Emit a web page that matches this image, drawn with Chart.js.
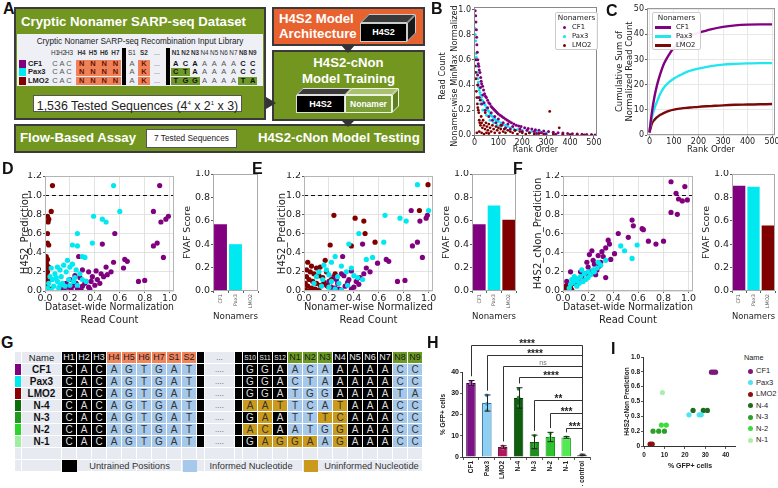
<!DOCTYPE html>
<html><head><meta charset="utf-8">
<script src="https://cdn.jsdelivr.net/npm/chart.js@4.4.1/dist/chart.umd.min.js"></script>
<style>
body{margin:0;background:#fff}
#root{position:relative;width:778px;height:488px;overflow:hidden;font-family:"Liberation Sans",Arial,sans-serif;color:#222}
#root div{position:absolute;box-sizing:border-box;white-space:nowrap}
#root canvas{position:absolute}
.wt{color:#fff;font-weight:bold;font-size:13.2px;line-height:14px}
</style></head><body><div id="root"></div>
<script>
// ---------- data ----------
const nonamers = ['CF1', 'Pax3', 'LMO2'];
const nonamerColors = ['#800080', '#00e8f0', '#800000'];

// B: nonamer-wise minmax normalized read count vs rank
const bCF1 = [[3,0.99],[5,0.95],[6,0.9],[7,0.6],[8,0.84],[9,0.78],[10,0.72],[12,0.66],[13,0.48],[14,0.6],[15,0.4],[16,0.57],[18,0.55],[20,0.52],[20,0.3],[23,0.5],[25,0.38],[26,0.46],[28,0.43],[30,0.41],[30,0.25],[34,0.39],[35,0.32],[38,0.36],[40,0.26],[42,0.33],[45,0.2],[46,0.31],[50,0.3],[55,0.28],[55,0.22],[60,0.26],[60,0.15],[65,0.25],[70,0.23],[70,0.18],[75,0.22],[75,0.12],[80,0.21],[85,0.2],[85,0.15],[90,0.19],[90,0.1],[95,0.18],[100,0.17],[100,0.13],[108,0.16],[110,0.08],[115,0.15],[120,0.1],[122,0.14],[130,0.13],[130,0.06],[138,0.12],[140,0.09],[146,0.11],[150,0.05],[155,0.1],[160,0.07],[165,0.09],[170,0.04],[175,0.08],[185,0.075],[190,0.05],[195,0.07],[200,0.03],[210,0.06],[220,0.04],[225,0.055],[230,0.02],[240,0.05],[250,0.03],[255,0.045],[260,0.015],[270,0.04],[280,0.02],[290,0.035],[300,0.01],[310,0.03],[330,0.025],[340,0.008],[350,0.02],[370,0.018],[390,0.015],[410,0.012],[430,0.01],[450,0.008],[470,0.006],[490,0.004],[505,0.002]];
const bPax3 = [[2,0.85],[4,0.8],[5,0.75],[7,0.65],[8,0.62],[10,0.55],[12,0.5],[14,0.45],[15,0.3],[16,0.42],[18,0.38],[20,0.36],[23,0.34],[25,0.25],[26,0.32],[29,0.3],[32,0.28],[35,0.2],[36,0.27],[40,0.25],[45,0.24],[50,0.22],[50,0.16],[55,0.2],[60,0.19],[65,0.17],[65,0.12],[70,0.16],[75,0.15],[80,0.14],[80,0.1],[85,0.13],[90,0.12],[95,0.115],[95,0.08],[100,0.11],[110,0.1],[110,0.07],[120,0.09],[130,0.08],[130,0.05],[140,0.07],[150,0.06],[165,0.05],[180,0.045],[200,0.04],[220,0.035],[240,0.03],[260,0.028],[280,0.025],[300,0.02]];
const bLMO2 = [[2,0.6],[3,0.55],[5,0.5],[6,0.45],[8,0.35],[10,0.3],[10,0.02],[12,0.25],[13,0.4],[14,0.22],[16,0.2],[18,0.18],[20,0.12],[20,0.03],[22,0.1],[24,0.28],[25,0.08],[28,0.15],[30,0.1],[30,0.02],[33,0.06],[36,0.12],[40,0.08],[40,0.01],[44,0.05],[45,0.18],[48,0.1],[50,0.02],[52,0.07],[56,0.04],[60,0.09],[60,0.015],[65,0.06],[70,0.03],[75,0.08],[80,0.05],[85,0.02],[90,0.07],[95,0.04],[100,0.06],[105,0.02],[110,0.05],[115,0.08],[120,0.03],[125,0.05],[130,0.02],[140,0.04],[150,0.03],[160,0.02],[170,0.04],[180,0.01],[190,0.03],[200,0.02],[215,0.01],[230,0.02],[250,0.01],[270,0.015],[290,0.01],[315,0.19],[330,0.01],[355,0.06],[370,0.008],[400,0.005],[430,0.006],[460,0.004],[490,0.003]];

// C: cumulative sums
const cRank = [0,10,20,30,40,50,60,80,100,125,150,175,200,250,300,350,400,450,500];
const cCF1 = [1,9,15,19.5,23,26,28.5,32,34.8,37,38.7,39.8,40.6,42,43,43.6,43.9,44,44];
const cPax3 = [2,7,10.5,13,15.5,17.5,19,21,22.5,23.8,25,25.8,26.4,27.4,28,28.3,28.5,28.6,28.6];
const cLMO2 = [1,4.5,6,7,7.8,8.3,8.8,9.6,10.1,10.5,10.8,11,11.2,11.5,11.8,12,12.1,12.2,12.3];

// D: H4S2 prediction vs dataset-wide normalization
const dCF1 = [[0.92,1.10],[0.87,0.83],[0.99,0.78],[0.97,0.75],[0.93,0.72],[0.56,0.60],[0.46,0.49],[0.90,0.50],[0.87,0.47],[0.95,0.35],[0.64,0.33],[0.66,0.31],[0.55,0.30],[0.49,0.25],[0.63,0.24],[0.53,0.20],[0.75,0.10],[0.80,0.11],[0.27,0.36],[0.41,0.21],[0.35,0.2],[0.45,0.18],[0.3,0.22],[0.38,0.15],[0.42,0.12],[0.33,0.1],[0.28,0.14],[0.25,0.08],[0.22,0.05],[0.2,0.12],[0.18,0.04],[0.3,0.05],[0.35,0.04],[0.4,0.06],[0.26,0.02],[0.15,0.02],[0.12,0.03],[0.24,0.16],[0.32,0.08],[0.37,0.1],[0.44,0.08],[0.17,0.08],[0.29,0.01],[0.21,0.01],[0.36,0.02],[0.47,0.15],[0.5,0.17]];
const dPax3 = [[0.55,1.10],[0.60,0.83],[0.39,0.78],[0.46,0.75],[0.49,0.72],[0.26,0.60],[0.38,0.50],[0.22,0.48],[0.26,0.47],[0.30,0.36],[0.32,0.35],[0.22,0.28],[0.18,0.32],[0.15,0.27],[0.2,0.25],[0.12,0.22],[0.1,0.25],[0.05,0.24],[0.08,0.18],[0.13,0.15],[0.17,0.2],[0.25,0.22],[0.28,0.18],[0.06,0.12],[0.1,0.1],[0.14,0.08],[0.19,0.12],[0.23,0.1],[0.3,0.12],[0.03,0.08],[0.07,0.05],[0.11,0.03],[0.16,0.05],[0.2,0.06],[0.04,0.15],[0.09,0.14],[0.12,0.06],[0.02,0.03],[0.05,0.01],[0.26,0.06],[0.33,0.1],[0.24,0.14]];
const dLMO2 = [[0.06,1.10],[0.05,0.83],[0.02,0.78],[0.03,0.75],[0.025,0.72],[0.02,0.6],[0.02,0.5],[0.03,0.48],[0.01,0.36],[0.02,0.33],[0.01,0.3],[0.015,0.27],[0.01,0.24],[0.02,0.2],[0.01,0.18],[0.015,0.15],[0.01,0.12],[0.02,0.1],[0.01,0.08],[0.015,0.05],[0.01,0.03],[0.02,0.01],[0.005,0.22],[0.005,0.14],[0.005,0.06],[0.03,0.25],[0.03,0.12],[0.04,0.02]];
const dFvaf = [0.57, 0.40, 0.0];

// E: H4S2 prediction vs nonamer-wise normalization
const eCF1 = [[0.86,0.84],[0.93,0.73],[0.98,0.76],[0.99,0.79],[0.91,0.51],[0.87,0.47],[0.95,0.35],[0.47,0.49],[0.66,0.33],[0.68,0.31],[0.5,0.24],[0.59,0.29],[0.75,0.1],[0.81,0.11],[0.31,0.36],[0.38,0.21],[0.3,0.18],[0.36,0.12],[0.42,0.1],[0.27,0.08],[0.24,0.15],[0.33,0.05],[0.4,0.04],[0.28,0.02],[0.22,0.04],[0.45,0.14],[0.35,0.09],[0.2,0.1],[0.26,0.12],[0.32,0.16],[0.44,0.07],[0.38,0.02],[0.18,0.06],[0.48,0.18],[0.53,0.2],[0.25,0.03],[0.3,0.01]];
const ePax3 = [[0.91,1.11],[1.0,0.84],[0.65,0.79],[0.77,0.76],[0.82,0.73],[0.44,0.6],[0.36,0.49],[0.64,0.51],[0.25,0.36],[0.55,0.35],[0.5,0.33],[0.22,0.3],[0.3,0.26],[0.18,0.22],[0.12,0.2],[0.2,0.17],[0.27,0.15],[0.34,0.2],[0.4,0.16],[0.43,0.14],[0.1,0.15],[0.15,0.12],[0.22,0.1],[0.28,0.08],[0.35,0.06],[0.08,0.08],[0.14,0.05],[0.2,0.04],[0.25,0.02],[0.3,0.01],[0.47,0.12],[0.38,0.24],[0.16,0.27]];
const eLMO2 = [[0.995,1.11],[0.926,0.84],[0.24,0.79],[0.41,0.76],[0.48,0.73],[0.49,0.6],[0.38,0.47],[0.57,0.51],[0.21,0.48],[0.17,0.32],[0.03,0.3],[0.06,0.26],[0.1,0.24],[0.13,0.25],[0.02,0.22],[0.05,0.2],[0.08,0.18],[0.12,0.16],[0.15,0.14],[0.02,0.15],[0.04,0.12],[0.07,0.1],[0.1,0.08],[0.13,0.06],[0.16,0.09],[0.19,0.05],[0.01,0.08],[0.03,0.05],[0.06,0.03],[0.09,0.02],[0.12,0.01],[0.01,0.01],[0.04,0.0],[0.18,0.2],[0.22,0.12],[0.25,0.18]];
const eFvaf = [0.57, 0.73, 0.61];

// F: H4S2-cNon prediction vs dataset-wide normalization
const fCF1 = [[0.86,1.14],[0.97,1.09],[0.90,1.02],[0.92,0.96],[0.95,0.94],[0.99,0.95],[0.86,0.82],[0.91,0.80],[0.55,0.74],[0.56,0.68],[0.63,0.65],[0.64,0.64],[0.44,0.60],[0.52,0.56],[0.36,0.53],[0.68,0.52],[0.80,0.52],[0.74,0.49],[0.37,0.49],[0.34,0.45],[0.21,0.38],[0.28,0.37],[0.41,0.39],[0.34,0.14],[0.3,0.3],[0.25,0.28],[0.2,0.25],[0.32,0.36],[0.27,0.22],[0.22,0.2],[0.18,0.18],[0.15,0.15],[0.12,0.12],[0.1,0.1],[0.08,0.08],[0.05,0.06],[0.03,0.1],[0.02,0.05],[0.24,0.32],[0.38,0.33],[0.29,0.26],[0.19,0.3],[0.26,0.17],[0.14,0.2],[0.31,0.41],[0.23,0.42],[0.06,0.2]];
const fPax3 = [[0.46,0.47],[0.59,0.48],[0.49,0.42],[0.55,0.34],[0.34,0.32],[0.3,0.27],[0.27,0.24],[0.24,0.22],[0.2,0.2],[0.17,0.18],[0.14,0.15],[0.12,0.13],[0.1,0.11],[0.08,0.09],[0.06,0.07],[0.16,0.1],[0.2,0.14],[0.22,0.17],[0.11,0.05],[0.13,0.08],[0.18,0.12],[0.25,0.2],[0.09,0.15],[0.05,0.03],[0.07,0.12],[0.15,0.22],[0.28,0.3]];
const fLMO2 = [[0.01,0.01],[0.02,0.02],[0.03,0.01],[0.04,0.03],[0.05,0.02],[0.06,0.04],[0.02,0.04],[0.07,0.01],[0.01,0.03],[0.03,0.05],[0.05,0.0]];
const fFvaf = [0.90, 0.89, 0.56];

// H: flow assay
const hLabels = ['CF1', 'Pax3', 'LMO2', 'N-4', 'N-3', 'N-2', 'N-1', '- control'];
const hMeans = [34.8, 25.4, 4.7, 27.8, 7.1, 9.4, 9.2, 1.0];
const hErr = [1.2, 3.8, 0.6, 4.8, 3.2, 2.2, 0.4, 0.3];
const hReps = [[34, 35.5, 34.5], [29, 25, 22], [4, 5, 4.5], [32, 28, 24], [10, 6, 5], [11, 9, 8.5], [9.5, 9.2, 9], [1, 0.8, 1.2]];
const brFrom = ['CF1', 'Pax3', 'LMO2', 'N-4', 'N-3', 'N-2', 'N-1'];
const brLevel = [52.7, 48, 42.8, 37.6, 26.8, 20.7, 13.6];
const brText = ['****', '****', 'ns', '****', '**', '***', '***'];

// I: prediction vs % GFP+
const iNames = ['CF1', 'Pax3', 'LMO2', 'N-4', 'N-3', 'N-2', 'N-1'];
const iColors = ['#7a1a7a', '#4fe3f0', '#8b1010', '#1e6b1e', '#2aa02a', '#3cdc3c', '#a8f0a8'];
const iPoints = [[[33,0.83],[34,0.83],[35,0.83]], [[22,0.35],[27,0.35],[28,0.35]], [[3,0.02],[4,0.02]], [[24,0.40],[29,0.40],[31,0.40]], [[4.4,0.167],[7.2,0.167],[10,0.167]], [[8.5,0.235],[10.9,0.235]], [[9,0.6]]];
const iTickLabels = ['0', '0.2', '0.3', '0.5', '0.6', '0.8', '1.0'];

// G: sequence table
const gNames = ['CF1', 'Pax3', 'LMO2', 'N-4', 'N-3', 'N-2', 'N-1'];
const gColors = ['#800080', '#00e8f0', '#8b0000', '#0b6e0b', '#1f9a1f', '#2bd62b', '#a0eea0'];
const gHeadL = ['H1','H2','H3','H4','H5','H6','H7','S1','S2'];
const gHeadR = ['S10','S11','S12','N1','N2','N3','N4','N5','N6','N7','N8','N9'];
const gLeftSeq = 'CACAGTGAT';
const gRightSeq = ['GGAACAAAAACC','GGACTAAAAACC','GGATGGAAAATA','AATTCATAAACC','GAATTTCAAACC','ACAATGGAAACC','GAGGAAGAAACC'];
const gRightState = ['kkkbbbkkkkbb','kkkbbbkkkkbb','kkkbbbkkkkbb','gggbbbgkkkbb','kgkbbggkkkbb','ggkbbbgkkkbb','kggggbgkkkbb'];

// ---------- helpers ----------
const root = document.getElementById('root');
const DJ = "'DejaVu Sans', sans-serif", LIB = "'Liberation Sans', Arial, sans-serif";

function el(x, y, w, h, style, html) {
  const d = document.createElement('div');
  d.style.cssText = `left:${x}px;top:${y}px;` + (w != null ? `width:${w}px;` : '') + (h != null ? `height:${h}px;` : '') + (style || '');
  if (html != null) d.innerHTML = html;
  root.appendChild(d);
  return d;
}
function mkCanvas(p) {
  const c = document.createElement('canvas');
  const w = p.x1 - p.x0 + p.L + p.R, h = p.y1 - p.y0 + p.T + p.B;
  c.width = w; c.height = h;
  c.style.cssText = `left:${p.x0 - p.L}px;top:${p.y0 - p.T}px;width:${w}px;height:${h}px`;
  root.appendChild(c);
  return c;
}
const zeroPad = s => { s.paddingLeft = s.paddingRight = s.paddingTop = s.paddingBottom = 0; };
function opts(p, scales, pl) {
  scales.x.afterFit = s => { s.height = p.B; zeroPad(s); };
  scales.y.afterFit = s => { s.width = p.L; zeroPad(s); };
  return {
    responsive: false, animation: false, devicePixelRatio: 1,
    layout: { padding: { top: p.T, right: p.R, left: 0, bottom: 0 } },
    plugins: Object.assign({ legend: { display: false }, tooltip: { enabled: false } }, pl || {}),
    scales
  };
}
function axis(o) {
  const ticks = { includeBounds: false, autoSkip: false, font: o.font, color: o.color || '#222', padding: o.pad != null ? o.pad : 2,
    minRotation: o.rot || 0, maxRotation: o.rot || 0 };
  if (o.step != null) ticks.stepSize = o.step;
  if (o.fmt) ticks.callback = o.fmt;
  const a = {
    type: o.type || 'linear',
    border: { display: !!o.border, color: o.border || '#333', width: 1 },
    grid: { display: true, drawOnChartArea: !!o.grid, color: o.grid || '#333', tickColor: o.tickColor || '#333', tickLength: o.tl != null ? o.tl : 3, lineWidth: 0.8 },
    ticks,
    title: o.title ? { display: true, text: o.title, font: o.tfont, color: '#222', padding: o.tpad } : { display: false }
  };
  if (o.min != null) a.min = o.min;
  if (o.max != null) a.max = o.max;
  return a;
}
const toXY = arr => arr.map(p => ({ x: p[0], y: p[1] }));
const f1 = v => v.toFixed(1);
const intFmt = v => String(Math.round(v));

const deco = {
  id: 'deco',
  beforeDatasetsDraw(chart, args, o) {
    const { ctx, chartArea: a, scales } = chart;
    if (o.axes) {
      ctx.save(); ctx.strokeStyle = o.axes; ctx.lineWidth = 1;
      const l = Math.round(a.left) - 0.5, b = Math.round(a.bottom) + 0.5;
      ctx.beginPath(); ctx.moveTo(l, a.top); ctx.lineTo(l, b); ctx.lineTo(a.right, b); ctx.stroke();
      ctx.restore();
    }
    if (o.hline == null) return;
    const y = Math.round(scales.y.getPixelForValue(o.hline)) + 0.5;
    ctx.save();
    ctx.setLineDash([4, 3]); ctx.strokeStyle = '#111'; ctx.lineWidth = 1.2;
    ctx.beginPath(); ctx.moveTo(a.left, y); ctx.lineTo(a.right, y); ctx.stroke();
    ctx.restore();
  },
  afterDatasetsDraw(chart, args, o) {
    if (!o.frame) return;
    const { ctx, chartArea: a } = chart;
    ctx.save(); ctx.strokeStyle = o.frame; ctx.lineWidth = 1;
    ctx.strokeRect(Math.round(a.left) + 0.5, Math.round(a.top) + 0.5, Math.round(a.width) - 1, Math.round(a.height) - 1);
    ctx.restore();
  }
};

// ---------- panel A (schematic) ----------
el(14, 7, 252, 113, 'background:#72961f;border:2px solid #3a3a3a');
el(21, 15, null, null, '', 'Cryptic Nonamer SARP-seq Dataset').className = 'wt';
el(17, 34, 246, 52, 'background:#eef0f6');
el(17, 37, 246, 10, 'font-size:8.2px;line-height:10px;text-align:center;color:#222', 'Cryptic Nonamer SARP-seq Recombination Input Library');
const aHead = ['H1','H2','H3','H4','H5','H6','H7','S1','S2','N1','N2','N3','N4','N5','N6','N7','N8','N9'];
const aX = [55,62,69,81.6,92.9,104.1,115.4,132,144,175.8,185.4,195,204.6,214.2,223.8,233.4,243,252.6];
const aBold = [0,0,0,1,1,1,1,0,1,1,1,1,0,0,0,0,1,1];
const aRowY = [59.5, 68, 76.5];
const aLeftSeq = 'CACNNNNAK';
const aNSeq = ['ACAAAAACC', 'CTAAAAACC', 'TGGAAAATA'];
const aGreen = ['000000000', '110000000', '111000011'];
el(122, 48, 4, 37, 'background:#000');
el(166, 48, 4, 37, 'background:#000');
aRowY.forEach((y, r) => {
  el(76, y, 45, 8, 'background:#f0825a');
  el(138, y, 12, 8, 'background:#f0825a');
  for (let i = 0; i < 9; i++) if (aGreen[r][i] === '1') el(171 + 9.6 * i, y, 9.6, 8, 'background:#6f9a2a');
  el(19, y, 7, 8, 'background:' + nonamerColors[r]);
  el(28, y - 1, null, 10, 'font-size:7.5px;line-height:10px;font-weight:bold', nonamers[r]);
});
aHead.forEach((t, i) => {
  el(aX[i] - 6, 48, 12, 10, `font-size:6.4px;line-height:10px;text-align:center;font-weight:${aBold[i] ? 'bold' : 'normal'};color:#333`, t);
});
el(151, 48, 12, 10, 'font-size:7px;line-height:10px;text-align:center;color:#555', '...');
aRowY.forEach((y, r) => {
  const seq = aLeftSeq + aNSeq[r];
  for (let i = 0; i < seq.length; i++) {
    const b = aBold[i] || (i >= 9 && aGreen[r][i - 9] === '1');
    const col = (i >= 3 && i <= 6) || i === 8 ? '#6a1500' : (b ? '#111' : '#555');
    el(aX[i] - 5, y - 1, 10, 10, `font-size:7.5px;line-height:10px;text-align:center;font-weight:${b ? 'bold' : 'normal'};color:${col}`, seq[i]);
  }
  el(151, y - 1, 12, 10, 'font-size:7px;line-height:10px;text-align:center;color:#555', '...');
});
el(33, 95, 209, 17, 'background:#fff;border:1px solid #555;font-size:12.4px;line-height:15px;text-align:center;color:#222', '1,536 Tested Sequences (4<sup style="font-size:6px">4</sup> x 2<sup style="font-size:6px">1</sup> x 3)');

el(14, 124, 411, 29, 'background:#72961f;border:2px solid #3a3a3a');
el(20, 131, null, null, '', 'Flow-Based Assay').className = 'wt';
el(146, 129, 91, 19, 'background:#fff;border:1px solid #555;font-size:8.3px;line-height:17px;text-align:center;color:#222', '7 Tested Sequences');
el(258, 131, null, null, '', 'H4S2-cNon Model Testing').className = 'wt';

el(272, 7, 153, 39, 'background:#e8622f;border:2px solid #3a3a3a');
el(279, 12, null, null, '', 'H4S2 Model').className = 'wt';
el(279, 27, null, null, '', 'Architecture').className = 'wt';
el(360, 14, 47, 9, 'background:#3a3a3a;transform:skewX(-45deg);transform-origin:bottom left;border:1px solid #ccc');
el(407, 23, 9, 19, 'background:#1a1a1a;transform:skewY(-45deg);transform-origin:top left;border:1px solid #ccc');
el(360, 23, 47, 19, 'background:#000;border:1px solid #ccc;color:#fff;font-weight:bold;font-size:9px;line-height:17px;text-align:center', 'H4S2');

el(272, 50, 153, 71, 'background:#72961f;border:2px solid #3a3a3a');
el(274, 56, 149, null, 'text-align:center', 'H4S2-cNon').className = 'wt';
el(274, 72, 149, null, 'text-align:center', 'Model Training').className = 'wt';
el(296, 88, 49, 7, 'background:#3a3a3a;transform:skewX(-45deg);transform-origin:bottom left;border:1px solid #ddd');
el(345, 88, 47, 7, 'background:#a8c070;transform:skewX(-45deg);transform-origin:bottom left;border:1px solid #eef4e0');
el(392, 95, 7, 18, 'background:#5f7f20;transform:skewY(-45deg);transform-origin:top left;border:1px solid #eef4e0');
el(296, 95, 49, 18, 'background:#000;border:1px solid #ddd;color:#fff;font-weight:bold;font-size:9px;line-height:16px;text-align:center', 'H4S2');
el(345, 95, 47, 18, 'background:#7c9e36;border:1px solid #eef4e0;color:#fff;font-weight:bold;font-size:8.5px;line-height:16px;text-align:center', 'Nonamer');
el(341, 45, 0, 0, 'border-left:7px solid transparent;border-right:7px solid transparent;border-top:8px solid #333');
el(341, 120, 0, 0, 'border-left:7px solid transparent;border-right:7px solid transparent;border-top:7px solid #333');
el(266, 97, 0, 0, 'border-top:6px solid transparent;border-bottom:6px solid transparent;border-left:10px solid #333');

// ---------- panel B ----------
const pB = { x0: 474, x1: 598, y0: 7, y1: 136, L: 44, T: 7, R: 3, B: 24 };
new Chart(mkCanvas(pB), {
  type: 'scatter',
  data: { datasets: [
    { data: toXY(bLMO2), backgroundColor: nonamerColors[2], pointRadius: 1.4, borderWidth: 0 },
    { data: toXY(bCF1), backgroundColor: nonamerColors[0], pointRadius: 1.5, borderWidth: 0 },
    { data: toXY(bPax3), backgroundColor: nonamerColors[1], pointRadius: 1.4, borderWidth: 0 }
  ] },
  options: opts(pB, {
    x: axis({ min: -2, max: 513, step: 100, tl: 2, pad: 0, font: { family: DJ, size: 8 }, title: 'Rank Order', tfont: { family: DJ, size: 8 }, tpad: { bottom: 4.9 } }),
    y: axis({ min: -0.005, max: 1.02, step: 0.2, tl: 2, pad: 1, fmt: f1, font: { family: DJ, size: 8 } })
  }, { deco: { frame: '#888' } }),
  plugins: [deco]
});

// ---------- panel C ----------
const pC = { x0: 647, x1: 775, y0: 8, y1: 135, L: 35, T: 8, R: 3, B: 24 };
const cLine = (ys, color) => ({ data: cRank.map((r, i) => ({ x: r, y: ys[i] })), borderColor: color, borderWidth: 2.4, pointRadius: 0, cubicInterpolationMode: 'monotone' });
new Chart(mkCanvas(pC), {
  type: 'line',
  data: { datasets: [cLine(cCF1, '#800080'), cLine(cPax3, '#22e6ee'), cLine(cLMO2, '#7a0a0a')] },
  options: opts(pC, {
    x: axis({ min: -10, max: 512, step: 100, tl: 2, pad: 0, grid: '#e2e2e2', font: { family: DJ, size: 8 }, title: 'Rank Order', tfont: { family: DJ, size: 8.5 }, tpad: { bottom: 4.3 } }),
    y: axis({ min: 0, max: 50.5, step: 10, tl: 2, pad: 1, grid: '#e2e2e2', font: { family: DJ, size: 8 }, title: ['Cumulative Sum of', 'Normalized Read Count'], tfont: { family: DJ, size: 8.5, lineHeight: 1.2 }, tpad: { top: 2.9 } })
  }, { deco: { frame: '#999' } }),
  plugins: [deco]
});

// ---------- panels D, E, F ----------
function scatterPanel(p, cf1, pax3, lmo2, xTitle, yTitle) {
  new Chart(mkCanvas(p), {
    type: 'scatter',
    data: { datasets: [
      { data: toXY(pax3), backgroundColor: nonamerColors[1], pointRadius: 2.6, borderWidth: 0 },
      { data: toXY(lmo2), backgroundColor: nonamerColors[2], pointRadius: 2.6, borderWidth: 0 },
      { data: toXY(cf1), backgroundColor: nonamerColors[0], pointRadius: 2.6, borderWidth: 0 }
    ] },
    options: opts(p, {
      x: axis({ min: 0, max: 1.035, step: 0.2, tl: 2, pad: 0, fmt: f1, grid: '#dcdcdc', font: { family: DJ, size: 9.5 }, title: xTitle, tfont: { family: DJ, size: 10, lineHeight: 1.3 }, tpad: { bottom: 0 } }),
      y: axis({ min: 0, max: 1.2, step: 0.2, tl: 2, pad: 1, fmt: f1, grid: '#dcdcdc', font: { family: DJ, size: 9.5 }, title: yTitle, tfont: { family: DJ, size: 10 }, tpad: { top: p.tp } })
    }, { deco: { hline: 1.0, frame: '#b5b5b5' } }),
    plugins: [deco]
  });
}
function fvafPanel(p, values) {
  new Chart(mkCanvas(p), {
    type: 'bar',
    data: { labels: nonamers, datasets: [{ data: values, backgroundColor: nonamerColors, barPercentage: 0.86, categoryPercentage: 1 }] },
    options: opts(p, {
      x: axis({ type: 'category', tl: 2, font: { family: DJ, size: 5 }, color: '#555', rot: 90, pad: 1, title: 'Nonamers', tfont: { family: DJ, size: 9.5 }, tpad: { bottom: 2.3 } }),
      y: axis({ min: 0, max: 1, step: 0.2, tl: 2, pad: 1, fmt: f1, font: { family: DJ, size: 9.5 }, title: 'FVAF Score', tfont: { family: DJ, size: 9.5 }, tpad: { top: p.tp } })
    }, { deco: { frame: '#aaa' } }),
    plugins: [deco]
  });
}
scatterPanel({ x0: 45, x1: 175, y0: 175, y1: 291, L: 33, T: 3, R: 3, B: 36, tp: 7 }, dCF1, dPax3, dLMO2, ['Dataset-wide Normalization', 'Read Count'], 'H4S2_Prediction');
fvafPanel({ x0: 213, x1: 258, y0: 174, y1: 291, L: 33, T: 4, R: 2, B: 34, tp: 2.3 }, dFvaf);
scatterPanel({ x0: 304, x1: 434, y0: 175, y1: 291, L: 36, T: 3, R: 3, B: 36, tp: 8 }, eCF1, ePax3, eLMO2, ['Nonamer-wise Normalized', 'Read Count'], 'H4S2_Prediction');
fvafPanel({ x0: 472, x1: 516, y0: 174, y1: 291, L: 34, T: 4, R: 2, B: 34, tp: 3.3 }, eFvaf);
scatterPanel({ x0: 563, x1: 694, y0: 175, y1: 291, L: 37, T: 3, R: 3, B: 36, tp: 6 }, fCF1, fPax3, fLMO2, ['Dataset-wide Normalization', 'Read Count'], 'H4S2_cNon_Prediction');
fvafPanel({ x0: 732, x1: 775, y0: 174, y1: 291, L: 34, T: 4, R: 2, B: 34, tp: 3.3 }, fFvaf);

// ---------- panel G (table) ----------
const gOrange = '#f2845c', gGreen = '#6b9a24', gBlue = '#a6c8ea', gGold = '#c99a1c', gBg = '#e8eaf2';
el(15, 352, 408, 120, 'background:' + gBg);
const gLX = i => 62 + 15 * i, gRX = j => 243 + 15 * j;
function cell(x, y, w, bg, color, text, fs, bold) {
  el(x, y, w, 12, `background:${bg};color:${color};font-size:${fs}px;line-height:11px;text-align:center;border-right:1px solid #fff;border-bottom:1px solid #fff;font-weight:${bold ? 'bold' : 'normal'}`, text);
}
cell(15, 352, 7, gBg, '#222', '', 9, false);
cell(22, 352, 40, gBg, '#222', 'Name', 9.5, false);
gHeadL.forEach((t, i) => cell(gLX(i), 352, 15, i < 3 ? '#000' : gOrange, i < 3 ? '#eee' : '#222', t, 9, false));
cell(197, 352, 8, '#000', '#fff', '', 9, false);
cell(205, 352, 30, gBg, '#555', '...', 8, false);
cell(235, 352, 8, '#000', '#fff', '', 9, false);
gHeadR.forEach((t, j) => {
  const g = (j >= 3 && j <= 5) || j >= 10;
  cell(gRX(j), 352, 15, g ? gGreen : '#000', g ? '#1a1a1a' : '#eee', t, j < 3 ? 6.5 : 9, false);
});
gNames.forEach((n, r) => {
  const y = 364 + 12 * r;
  cell(15, y, 7, gColors[r], '#222', '', 9, false);
  cell(22, y, 40, gBg, '#111', n, 10, true);
  for (let i = 0; i < 9; i++) cell(gLX(i), y, 15, i < 3 ? '#000' : gBlue, i < 3 ? '#ddd' : '#333', gLeftSeq[i], 10, false);
  cell(197, y, 8, '#000', '#fff', '', 9, false);
  cell(205, y, 30, gBg, '#555', '....', 8, false);
  cell(235, y, 8, '#000', '#fff', '', 9, false);
  for (let j = 0; j < 12; j++) {
    const s = gRightState[r][j];
    cell(gRX(j), y, 15, s === 'k' ? '#000' : (s === 'b' ? gBlue : gGold), s === 'k' ? '#ddd' : '#333', gRightSeq[r][j], 10, false);
  }
});
[448, 460].forEach(y => {
  cell(15, y, 7, gBg, '#222', '', 9, false);
  cell(22, y, 40, gBg, '#222', '', 9, false);
  for (let i = 0; i < 9; i++) cell(gLX(i), y, 15, gBg, '#222', '', 9, false);
  cell(197, y, 8, gBg, '#222', '', 9, false);
  cell(205, y, 30, gBg, '#222', '', 9, false);
  cell(235, y, 8, gBg, '#222', '', 9, false);
  for (let j = 0; j < 12; j++) cell(gRX(j), y, 15, gBg, '#222', '', 9, false);
});
el(62, 460, 15, 12, 'background:#000');
el(77, 460, 105, 12, 'font-size:9.3px;line-height:12px;text-align:center;color:#333', 'Untrained Positions');
el(183, 460, 14, 12, 'background:' + gBlue);
el(203, 460, 96, 12, 'font-size:9.3px;line-height:12px;text-align:center;color:#333', 'Informed Nucleotide');
el(304, 460, 14, 12, 'background:' + gGold);
el(320, 460, 103, 12, 'font-size:9.3px;line-height:12px;text-align:center;color:#333', 'Uninformed Nucleotide');

// ---------- panel H ----------
const hColors = ['#7b1387', '#8ecff2', '#b3155e', '#0d5f0d', '#1c8f1c', '#2dc42d', '#52ea52', '#9a9a9a'];
const hBorders = ['#3e0046', '#2f6fa8', '#6b0a36', '#063806', '#0e5a0e', '#178017', '#2aa82a', '#555'];
const hDot = ['#b04ac0', '#3aa7ef', '#e0408a', '#2e8b2e', '#37b437', '#45d845', '#8cf58c', '#bbb'];
const hExtras = {
  id: 'hExtras',
  afterDatasetsDraw(chart) {
    const { ctx, scales: { x, y } } = chart;
    ctx.save();
    ctx.strokeStyle = '#222'; ctx.lineWidth = 1;
    hLabels.forEach((lab, i) => {
      const px = Math.round(x.getPixelForValue(i)) + 0.5;
      const t = y.getPixelForValue(hMeans[i] + hErr[i]), b = y.getPixelForValue(hMeans[i] - hErr[i]);
      ctx.beginPath();
      ctx.moveTo(px, t); ctx.lineTo(px, b);
      ctx.moveTo(px - 3, t); ctx.lineTo(px + 3, t);
      ctx.moveTo(px - 3, b); ctx.lineTo(px + 3, b);
      ctx.stroke();
    });
    const cx = Math.round(x.getPixelForValue(hLabels.length - 1)) + 0.5;
    const rightEnd = y.getPixelForValue(3);
    ctx.strokeStyle = '#333';
    brFrom.forEach((lab, k) => {
      const i = hLabels.indexOf(lab);
      const px = Math.round(x.getPixelForValue(i)) + 0.5;
      const py = Math.round(y.getPixelForValue(brLevel[k])) + 0.5;
      const legEnd = y.getPixelForValue(hMeans[i] + hErr[i] + 2);
      ctx.beginPath();
      ctx.moveTo(px, legEnd); ctx.lineTo(px, py); ctx.lineTo(cx, py); ctx.lineTo(cx, rightEnd);
      ctx.stroke();
      const ns = brText[k] === 'ns';
      ctx.fillStyle = ns ? '#777' : '#222';
      ctx.font = ns ? `7px ${LIB}` : `bold 10px ${LIB}`;
      ctx.textAlign = 'center'; ctx.textBaseline = 'alphabetic';
      ctx.fillText(brText[k], (px + cx) / 2, ns ? py - 2 : py + 1);
    });
    ctx.restore();
  }
};
const pH = { x0: 463, x1: 590, y0: 372, y1: 457, L: 33, T: 37, R: 4, B: 29 };
const hRepData = [], hRepColors = [];
hReps.forEach((reps, i) => reps.forEach(v => { hRepData.push({ x: hLabels[i], y: v }); hRepColors.push(hDot[i]); }));
new Chart(mkCanvas(pH), {
  type: 'bar',
  data: { labels: hLabels, datasets: [
    { type: 'scatter', data: hRepData, backgroundColor: hRepColors, pointRadius: 1.8, borderWidth: 0, order: 0 },
    { data: hMeans, backgroundColor: hColors, borderColor: hBorders, borderWidth: 1, barPercentage: 0.6, categoryPercentage: 1, order: 1 }
  ] },
  options: opts(pH, {
    x: axis({ type: 'category', font: { family: LIB, size: 6.5, weight: 'bold' }, rot: 90, pad: 1, color: '#222' }),
    y: axis({ min: 0, max: 40, step: 10, tl: 3, pad: 1, fmt: intFmt, color: '#111', font: { family: LIB, size: 7, weight: 'bold' }, title: '% GFP+ cells', tfont: { family: LIB, size: 6.5, weight: 'bold' }, tpad: { top: 9.1 } })
  }, { deco: { axes: '#333' } }),
  plugins: [deco, hExtras]
});

// ---------- panel I ----------
const pI = { x0: 644, x1: 737, y0: 357, y1: 446, L: 22, T: 7, R: 3, B: 28 };
new Chart(mkCanvas(pI), {
  type: 'scatter',
  data: { datasets: iNames.map((n, k) => ({ data: toXY(iPoints[k]), backgroundColor: iColors[k], pointRadius: 2.6, borderWidth: 0 })) },
  options: opts(pI, {
    x: axis({ min: 0, max: 45, step: 10, font: { family: LIB, size: 6.5, weight: 'bold' }, title: '% GFP+ cells', tfont: { family: LIB, size: 7, weight: 'bold' }, tpad: { bottom: 3.8 } }),
    y: axis({ min: 0, max: 1, step: 1 / (iTickLabels.length - 1), tl: 3, pad: 1, color: '#111', font: { family: LIB, size: 6.5, weight: 'bold' }, fmt: (v, i) => iTickLabels[i], title: 'H4S2-cNon Prediction', tfont: { family: LIB, size: 6.5, weight: 'bold' }, tpad: { top: 1 } })
  }, { deco: { axes: '#333' } }),
  plugins: [deco]
});

// ---------- legends and overlay text ----------
el(362, 71, 160, 10, 'font-family:' + DJ + ';font-size:8.2px;line-height:10px;text-align:center;transform:rotate(-90deg);color:#222', 'Read Count');
el(374, 71, 160, 10, 'font-family:' + DJ + ';font-size:8.2px;line-height:10px;text-align:center;transform:rotate(-90deg);color:#222', 'Nonamer-wise MinMax Normalized');
el(555, 12, 43, 38, 'background:rgba(255,255,255,0.92);border:1px solid #ccc;border-radius:2px');
el(555, 13, 43, 9, 'font-family:' + DJ + ';font-size:7.3px;line-height:9px;text-align:center', 'Nonamers');
nonamers.forEach((n, i) => {
  el(563, 25.5 + 9 * i, 3, 3, 'border-radius:50%;background:' + nonamerColors[i]);
  el(572, 22.5 + 9 * i, null, 9, 'font-family:' + DJ + ';font-size:6.8px;line-height:9px', n);
});
el(652, 12, 49, 38, 'background:rgba(255,255,255,0.92);border:1px solid #ccc;border-radius:2px');
el(652, 13, 49, 9, 'font-family:' + DJ + ';font-size:7.3px;line-height:9px;text-align:center', 'Nonamers');
['#800080', '#22e6ee', '#7a0a0a'].forEach((c, i) => {
  el(655, 26 + 9 * i, 16, 2.5, 'background:' + c);
  el(676, 22.5 + 9 * i, null, 9, 'font-family:' + DJ + ';font-size:6.8px;line-height:9px', nonamers[i]);
});
el(744, 353, null, 10, 'font-size:7.3px;line-height:10px', 'Name');
iNames.forEach((n, k) => {
  const y = 371 + 11.5 * k;
  el(747.5, y - 2.5, 5, 5, 'border-radius:50%;background:' + iColors[k]);
  el(756, y - 5, null, 10, 'font-size:7.5px;line-height:10px', n);
});
[['A', 3, 1], ['B', 431, 1], ['C', 606, 3], ['D', 2, 161], ['E', 252, 161], ['F', 513, 161], ['G', 1, 335], ['H', 427, 335], ['I', 611, 341]].forEach(([t, x, y]) => {
  el(x, y, null, 16, 'font-weight:bold;font-size:16px;line-height:16px;color:#111', t);
});
</script>
</body></html>
